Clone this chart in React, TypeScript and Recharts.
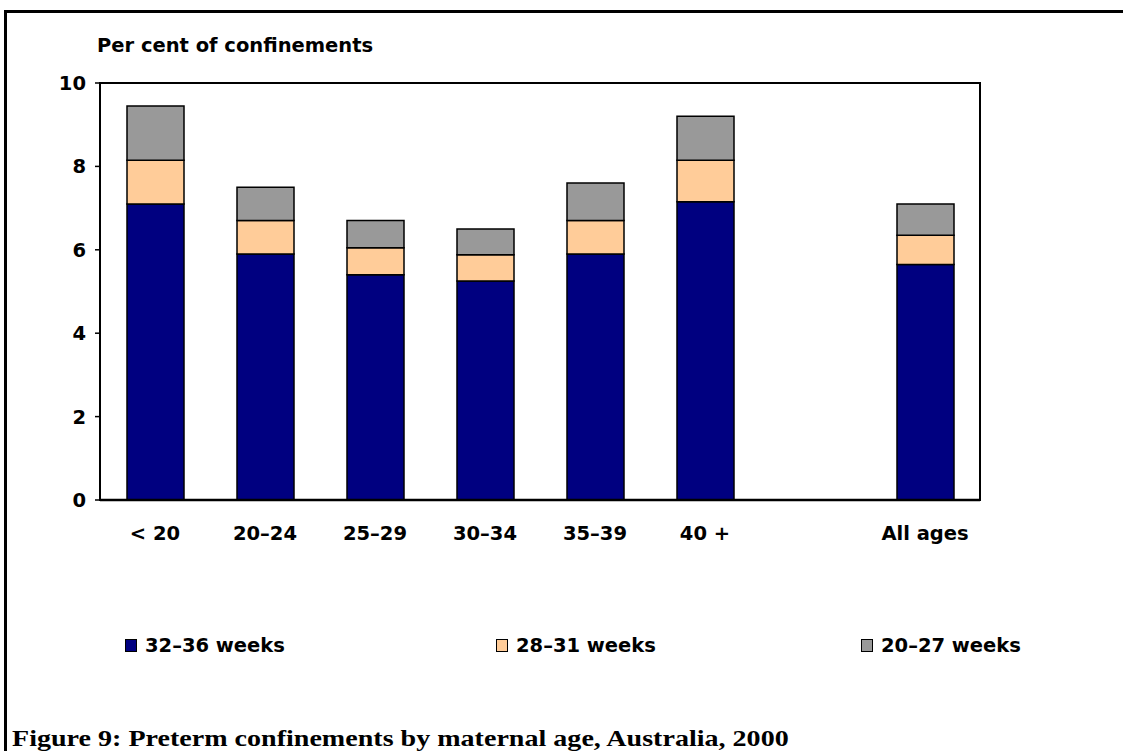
import React from "react";
import {
  BarChart,
  Bar,
  XAxis,
  YAxis,
  ReferenceArea,
} from "recharts";

// age groups (the blank one is the gap before "All ages")
const ageGroups = ["< 20", "20–24", "25–29", "30–34", "35–39", "40 +", "", "All ages"];

// per cent of confinements, by gestational age
const weeks32to36 = [7.1, 5.9, 5.4, 5.25, 5.9, 7.15, null, 5.65];
const weeks28to31 = [1.05, 0.8, 0.65, 0.63, 0.8, 1.0, null, 0.7];
const weeks20to27 = [1.3, 0.8, 0.65, 0.62, 0.9, 1.05, null, 0.75];

const yTicks = [0, 2, 4, 6, 8, 10];

const series = [
  { key: "w32_36", name: "32–36 weeks", color: "#000080", values: weeks32to36 },
  { key: "w28_31", name: "28–31 weeks", color: "#FFCC99", values: weeks28to31 },
  { key: "w20_27", name: "20–27 weeks", color: "#999999", values: weeks20to27 },
];

const data = ageGroups.map((age, i) => {
  const row: Record<string, any> = { age };
  series.forEach((s) => {
    row[s.key] = s.values[i];
  });
  return row;
});

const sans = "'DejaVu Sans', sans-serif";
const tickStyle = { fontFamily: sans, fontWeight: "bold", fontSize: 19.5, fill: "#000" };

// legend marker positions (left edge of the square)
const legendLeft = [125, 496, 861];

const App: React.FC = () => {
  return (
    <div
      style={{
        position: "absolute",
        left: 0,
        top: 0,
        width: 1123,
        height: 751,
        overflow: "hidden",
        background: "#fff",
      }}
    >
      {/* outer frame */}
      <div
        style={{
          position: "absolute",
          left: 4,
          top: 10,
          width: 1200,
          height: 800,
          borderTop: "3px solid #000",
          borderLeft: "3px solid #000",
        }}
      />

      <div
        style={{
          position: "absolute",
          left: 97,
          top: 36,
          fontFamily: sans,
          fontWeight: "bold",
          fontSize: 19.5,
          lineHeight: "19px",
          whiteSpace: "nowrap",
        }}
      >
        Per cent of confinements
      </div>

      <div style={{ position: "absolute", left: 0, top: 0 }}>
        <BarChart
          width={1123}
          height={751}
          data={data}
          margin={{ top: 83, right: 143, bottom: 211, left: 40 }}
        >
          <ReferenceArea
            y1={0}
            y2={10}
            fill="none"
            stroke="#000"
            strokeWidth={2}
            ifOverflow="visible"
          />
          <XAxis
            dataKey="age"
            tickLine={false}
            tickSize={6}
            tickMargin={20}
            height={40}
            axisLine={{ stroke: "#000", strokeWidth: 2.5 }}
            tick={tickStyle}
            interval={0}
          />
          <YAxis
            domain={[0, 10]}
            ticks={yTicks}
            width={60}
            tickSize={5}
            tickMargin={9}
            axisLine={{ stroke: "#000", strokeWidth: 2 }}
            tickLine={{ stroke: "#000", strokeWidth: 1.5 }}
            tick={tickStyle}
          />
          {series.map((s) => (
            <Bar
              key={s.key}
              dataKey={s.key}
              name={s.name}
              stackId="a"
              fill={s.color}
              stroke="#000"
              strokeWidth={1.5}
              barSize={57}
              isAnimationActive={false}
            />
          ))}
        </BarChart>
      </div>

      {/* legend */}
      {series.map((s, i) => (
        <div
          key={s.key}
          style={{
            position: "absolute",
            left: legendLeft[i],
            top: 636,
            height: 19,
            display: "flex",
            alignItems: "center",
            whiteSpace: "nowrap",
          }}
        >
          <span
            style={{
              display: "inline-block",
              width: 10,
              height: 11,
              background: s.color,
              border: "1.5px solid #000",
              marginRight: 8,
            }}
          />
          <span
            style={{
              fontFamily: sans,
              fontWeight: "bold",
              fontSize: 19.5,
              lineHeight: "19px",
            }}
          >
            {s.name}
          </span>
        </div>
      ))}

      {/* figure caption */}
      <div
        style={{
          position: "absolute",
          left: 12,
          top: 727,
          fontFamily: "'Liberation Serif', serif",
          fontWeight: "bold",
          fontSize: 23,
          lineHeight: "23px",
          whiteSpace: "nowrap",
          transform: "scaleX(1.22)",
          transformOrigin: "left top",
        }}
      >
        Figure 9: Preterm confinements by maternal age, Australia, 2000
      </div>
    </div>
  );
};

export default App;
